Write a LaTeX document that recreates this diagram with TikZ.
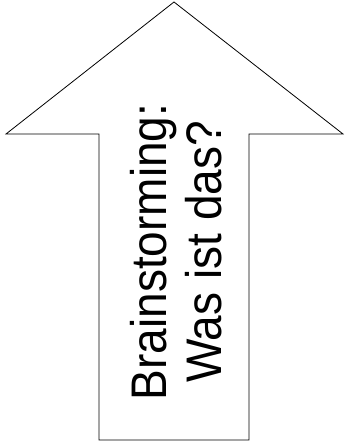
\documentclass[tikz,border=0pt]{standalone}
\usepackage{fontspec}
\newfontfamily\arrowfont[FakeStretch=0.92]{Liberation Sans}
\usetikzlibrary{positioning}
\tikzset{
  arrowshape/.style={draw=black, line width=0.8pt, fill=white, line join=miter},
  arrowlabel/.style={rotate=90, align=center, inner sep=0pt,
    font=\arrowfont\fontsize{50}{55}\selectfont}
}
\begin{document}
\begin{tikzpicture}[x=1pt, y=-1pt]
    \useasboundingbox (0,0) rectangle (345,442);
    % big arrow pointing up
    \coordinate (tip) at (174,2);
    \coordinate (headL) at (6,134);
    \coordinate (headR) at (343,134);
    \coordinate (shaftL) at (99,134);
    \coordinate (shaftR) at (249,134);
    \coordinate (baseL) at (99,440);
    \coordinate (baseR) at (249,440);
    \draw[arrowshape] (tip) -- (headR) -- (shaftR) -- (baseR) -- (baseL)
      -- (shaftL) -- (headL) -- cycle;
    \node[arrowlabel] (label) at (176,252) {Brainstorming:\\Was ist das?};
  \end{tikzpicture}
\end{document}
